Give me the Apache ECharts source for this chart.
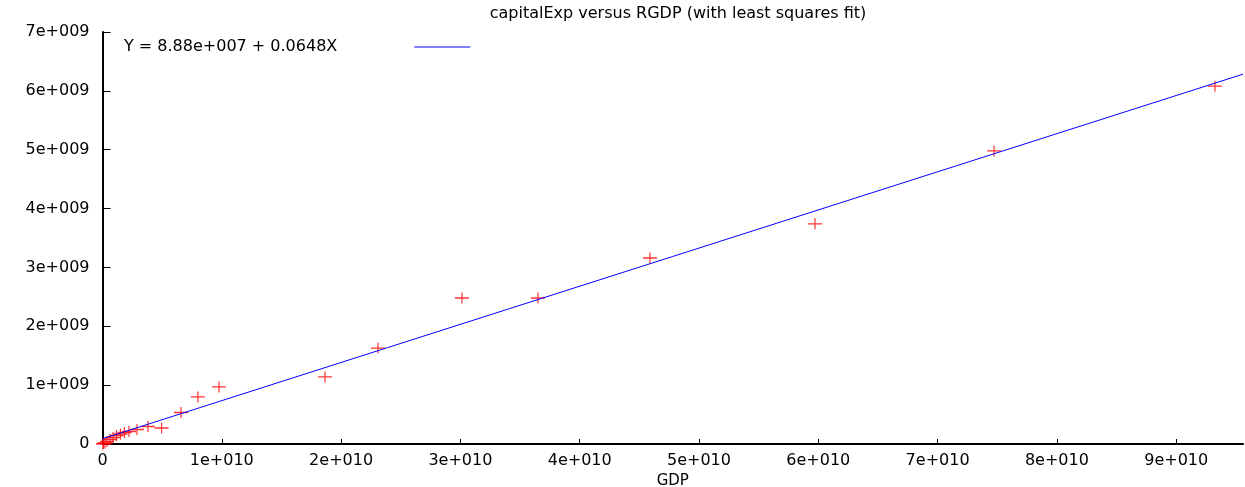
<!DOCTYPE html>
<html>
<head>
<meta charset="utf-8">
<script src="https://cdn.jsdelivr.net/npm/echarts@6/dist/echarts.min.js"></script>
<style>
  html, body { margin: 0; padding: 0; background: #fff; }
  #chart { width: 1245px; height: 487px; }
</style>
</head>
<body>
<div id="chart"></div>
<script>
// Data (GDP, capitalExp)
const gdp = [9.325e10, 7.473e10, 5.972e10, 4.589e10, 3.650e10, 3.013e10, 2.309e10, 1.865e10,
  0.977e10, 0.800e10, 0.658e10, 0.495e10, 0.381e10, 0.289e10, 0.222e10, 0.184e10,
  0.151e10, 0.117e10, 0.088e10, 0.063e10, 0.038e10, 0.021e10, 0.008e10, 0.004e10];
const capitalExp = [6.08e9, 4.98e9, 3.74e9, 3.16e9, 2.48e9, 2.48e9, 1.63e9, 1.14e9,
  0.97e9, 0.80e9, 0.535e9, 0.272e9, 0.297e9, 0.246e9, 0.212e9, 0.195e9,
  0.170e9, 0.144e9, 0.110e9, 0.076e9, 0.042e9, 0.017e9, 0.008e9, 0.003e9];
const fitIntercept = 8.88e7;
const fitSlope = 0.0648;
const fitLabel = 'Y = 8.88e+007 + 0.0648X';
const xMax = 9.56e10;
const yMax = 7e9;
const chartTitle = 'capitalExp versus RGDP (with least squares fit)';
const xName = 'GDP';

const points = gdp.map((g, i) => [g, capitalExp[i]]);
const fitLine = [[0, fitIntercept], [xMax, fitIntercept + fitSlope * xMax]];

const font = 'DejaVu Sans';
const chart = echarts.init(document.getElementById('chart'), null, { renderer: 'canvas' });
chart.setOption({
  animation: false,
  backgroundColor: '#ffffff',
  title: {
    text: chartTitle,
    left: 673, top: 1, textAlign: 'center',
    textStyle: { fontFamily: font, fontSize: 16, fontWeight: 'normal', color: '#000' }
  },
  legend: {
    left: 119, top: 34,
    align: 'right',
    itemWidth: 56, itemHeight: 1, itemGap: 0,
    textStyle: { fontFamily: font, fontSize: 16, color: '#000', padding: [0, 72, 0, 0] },
    data: [{ name: fitLabel, icon: 'rect', itemStyle: { color: '#0000ff' } }]
  },
  grid: { left: 102.5, right: 2, top: 32, bottom: 43, containLabel: false, outerBoundsMode: 'none' },
  xAxis: {
    type: 'value', min: 0, max: xMax, interval: 1e10,
    name: xName, nameLocation: 'middle', nameGap: 29,
    nameTextStyle: { fontFamily: font, fontSize: 15, color: '#000' },
    axisLine: { show: true, lineStyle: { color: '#000', width: 2 } },
    axisTick: { show: true, inside: true, length: 5, lineStyle: { color: '#000', width: 1 } },
    axisLabel: {
      fontFamily: font, fontSize: 16, color: '#000', margin: 9,
      showMaxLabel: false, hideOverlap: false,
      formatter: v => {
        const n = v / 1e10;
        if (Math.abs(n - Math.round(n)) > 1e-6) return '';
        return n === 0 ? '0' : (Math.round(n) + 'e+010');
      }
    },
    splitLine: { show: false }
  },
  yAxis: {
    type: 'value', min: 0, max: yMax, interval: 1e9,
    axisLine: { show: true, lineStyle: { color: '#000', width: 2 } },
    axisTick: { show: true, inside: true, length: 8, lineStyle: { color: '#000', width: 1 } },
    axisLabel: {
      fontFamily: font, fontSize: 16, color: '#000', margin: 13,
      formatter: v => v === 0 ? '0' : (Math.round(v / 1e9) + 'e+009')
    },
    splitLine: { show: false }
  },
  series: [
    {
      name: 'data', type: 'scatter', data: points,
      symbol: 'path://M0,4.4H14V5.6H0Z M6.4,0H7.6V10H6.4Z',
      symbolSize: [14, 11],
      itemStyle: { color: '#ff0000' },
      z: 2
    },
    {
      name: fitLabel, type: 'line', data: fitLine,
      symbol: 'none',
      lineStyle: { color: '#0000ff', width: 1 },
      itemStyle: { color: '#0000ff' },
      z: 3
    }
  ]
});
</script>
</body>
</html>
